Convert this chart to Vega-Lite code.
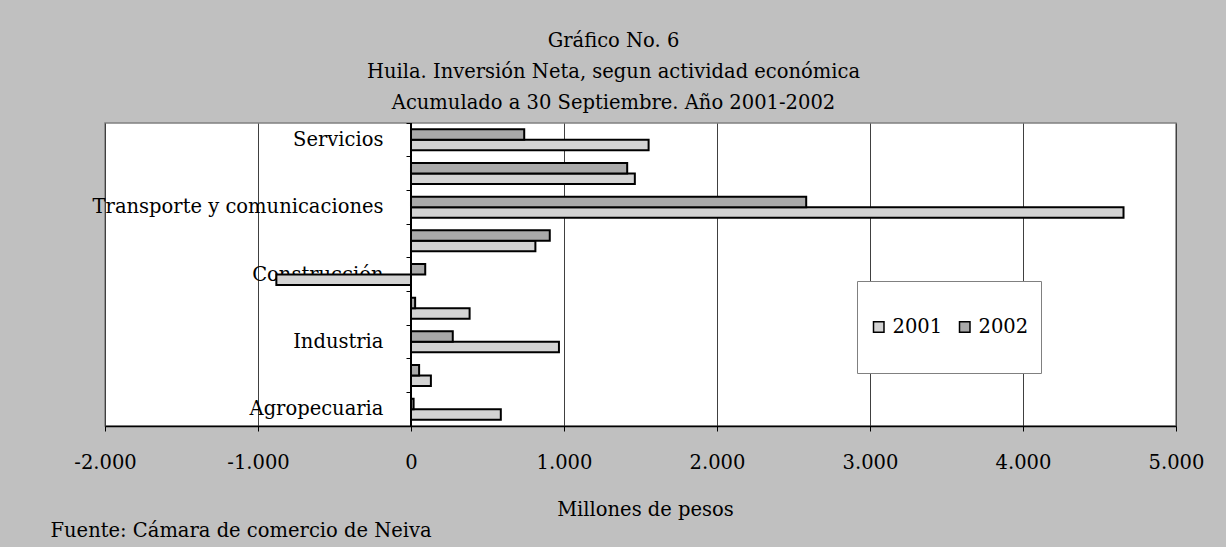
{
  "$schema": "https://vega.github.io/schema/vega-lite/v6.json",
  "width": 1071,
  "height": 303,
  "autosize": {"type": "none"},
  "padding": {"left": 105, "top": 123, "right": 50, "bottom": 121},
  "background": "#c0c0c0",
  "view": {"fill": "white", "stroke": "#808080", "strokeWidth": 1.5},
  "title": {
    "text": ["Gráfico No. 6", "Huila. Inversión Neta, segun actividad económica", "Acumulado a 30 Septiembre. Año 2001-2002"],
    "font": "DejaVu Serif", "fontSize": 19.5, "fontWeight": "normal", "lineHeight": 31,
    "offset": 9, "anchor": "middle", "dx": -27, "color": "black"
  },
  "data": {"values": [
    {"actividad": "Servicios", "año": "2001", "valor": 1553},
    {"actividad": "Servicios", "año": "2002", "valor": 740},
    {"actividad": "Seguros y finanzas", "año": "2001", "valor": 1463},
    {"actividad": "Seguros y finanzas", "año": "2002", "valor": 1413},
    {"actividad": "Transporte y comunicaciones", "año": "2001", "valor": 4657},
    {"actividad": "Transporte y comunicaciones", "año": "2002", "valor": 2583},
    {"actividad": "Comercio", "año": "2001", "valor": 813},
    {"actividad": "Comercio", "año": "2002", "valor": 907},
    {"actividad": "Construcción", "año": "2001", "valor": -880},
    {"actividad": "Construcción", "año": "2002", "valor": 93},
    {"actividad": "Electricidad, gas y agua", "año": "2001", "valor": 383},
    {"actividad": "Electricidad, gas y agua", "año": "2002", "valor": 27},
    {"actividad": "Industria", "año": "2001", "valor": 967},
    {"actividad": "Industria", "año": "2002", "valor": 273},
    {"actividad": "Explotación de minas", "año": "2001", "valor": 130},
    {"actividad": "Explotación de minas", "año": "2002", "valor": 53},
    {"actividad": "Agropecuaria", "año": "2001", "valor": 587},
    {"actividad": "Agropecuaria", "año": "2002", "valor": 17}
  ]},
  "layer": [
    {
      "mark": {"type": "bar", "stroke": "black", "strokeWidth": 2},
      "encoding": {
        "y": {
          "field": "actividad", "type": "nominal",
          "sort": ["Servicios", "Seguros y finanzas", "Transporte y comunicaciones", "Comercio", "Construcción", "Electricidad, gas y agua", "Industria", "Explotación de minas", "Agropecuaria"],
          "scale": {"paddingInner": 0, "paddingOuter": 0},
          "axis": {
            "title": null, "offset": -306, "bandPosition": 0, "labelOffset": 0, "labelLimit": 0,
            "tickSize": 5, "tickColor": "black", "domain": false, "grid": false,
            "labelFont": "DejaVu Serif", "labelFontSize": 19.5, "labelColor": "black", "labelPadding": 23,
            "labelExpr": "indexof(['Servicios','Transporte y comunicaciones','Construcción','Industria','Agropecuaria'], datum.value) >= 0 ? datum.value : ''"
          }
        },
        "x": {
          "field": "valor", "type": "quantitative",
          "scale": {"domain": [-2000, 5000], "nice": false},
          "axis": {
            "title": "Millones de pesos", "titleFont": "DejaVu Serif", "titleFontSize": 19.5, "titleFontWeight": "normal",
            "titleColor": "black", "titleX": 540, "titleY": 83, "titleBaseline": "middle",
            "values": [-2000, -1000, 0, 1000, 2000, 3000, 4000, 5000], "labelFlush": false,
            "labelExpr": "datum.value == 0 ? '0' : (datum.value / 1000) + '.000'",
            "labelFont": "DejaVu Serif", "labelFontSize": 19.5, "labelColor": "black", "labelPadding": 22,
            "tickSize": 5, "tickColor": "black", "domainColor": "black", "domainWidth": 1.5,
            "grid": true, "gridColor": "#404040", "gridWidth": 1
          }
        },
        "yOffset": {"field": "año", "type": "nominal", "sort": ["2002", "2001"], "scale": {"paddingOuter": 0.6, "paddingInner": 0}},
        "fill": {
          "field": "año", "type": "nominal",
          "scale": {"domain": ["2001", "2002"], "range": ["#d3d3d3", "#a9a9a9"]},
          "legend": {
            "title": null, "orient": "none", "legendX": 752, "legendY": 158, "direction": "horizontal",
            "fillColor": "white", "strokeColor": "#808080", "padding": 12, "clipHeight": 68,
            "symbolType": "square", "symbolStrokeColor": "black", "symbolStrokeWidth": 1.5, "symbolSize": 110,
            "labelFont": "DejaVu Serif", "labelFontSize": 19.5, "labelColor": "black", "columnPadding": 12, "labelOffset": 4
          }
        }
      }
    },
    {
      "mark": {"type": "rule", "color": "black", "strokeWidth": 1.5},
      "encoding": {
        "x": {
          "datum": 0, "type": "quantitative",
          "axis": {
            "orient": "bottom", "labels": false, "ticks": false, "domain": false, "grid": false,
            "title": "Fuente: Cámara de comercio de Neiva", "titleFont": "DejaVu Serif", "titleFontSize": 19.5,
            "titleFontWeight": "normal", "titleColor": "black", "titleAlign": "left", "titleAnchor": "start",
            "titleX": -55, "titleY": 104, "titleBaseline": "middle"
          }
        }
      }
    }
  ],
  "resolve": {"axis": {"x": "independent"}}
}
